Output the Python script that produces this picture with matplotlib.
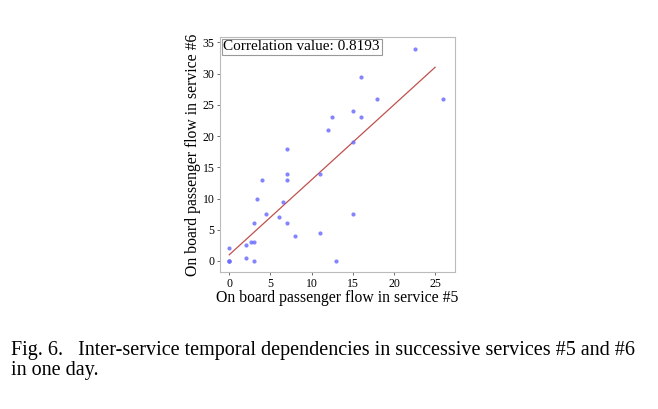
import matplotlib
matplotlib.use("Agg")
import matplotlib.pyplot as plt

plt.rcParams['font.family'] = ['Liberation Serif', 'DejaVu Serif']

# flow in service #5 (x) and service #6 (y)
flow_s5 = [0, 0, 0, 0, 2, 2, 2.6, 3, 3, 3, 3.4, 4, 4.5, 6, 6.5, 7, 7, 7, 7, 8,
           11, 11, 12, 12.5, 13, 15, 15, 15, 16, 16, 18, 22.5, 26]
flow_s6 = [0, 0, 0, 2, 2.5, 0.5, 3, 3, 6, 0, 10, 13, 7.5, 7, 9.5, 18, 14, 13, 6, 4,
           14, 4.5, 21, 23, 0, 24, 19, 7.5, 29.5, 23, 26, 34, 26]

# fitted line end points
fit_x = [0, 25]
fit_y = [1.0, 31.0]
corr_value = 0.8193

x_ticks = [0, 5, 10, 15, 20, 25]
y_ticks = [0, 5, 10, 15, 20, 25, 30, 35]

fig = plt.figure(figsize=(6.58, 4.09), dpi=100)
ax = fig.add_axes([0.3343, 0.335, 0.357, 0.5746])

ax.scatter(flow_s5, flow_s6, s=9, color='#6e6eff', alpha=0.85, linewidths=0, zorder=3)
ax.plot(fit_x, fit_y, color='#c0504d', lw=0.9, zorder=2)

ax.set_xlim(-1.13, 27.4)
ax.set_ylim(-1.76, 35.85)
ax.set_xticks(x_ticks)
ax.set_yticks(y_ticks)
ax.tick_params(labelsize=8.5, length=2.5, width=0.6, color='#555555', pad=1.5)
for sp in ax.spines.values():
    sp.set_color('#bbbbbb')
    sp.set_linewidth(0.8)

ax.set_xlabel('On board passenger flow in service #5', fontsize=11.3, labelpad=0)
ax.set_ylabel('On board passenger flow in service #6', fontsize=11.3, labelpad=1)

ax.text(0.015, 0.985, 'Correlation value: %.4f' % corr_value, transform=ax.transAxes,
        fontsize=11, va='top', ha='left',
        bbox=dict(boxstyle='square,pad=0.12', fc='white', ec='#999999', lw=0.8))

fig.text(11 / 658, 1 - 355 / 409, 'Fig. 6.   Inter-service temporal dependencies in successive services #5 and #6',
         fontsize=14.5, va='baseline', ha='left')
fig.text(11 / 658, 1 - 375 / 409, 'in one day.', fontsize=14.5, va='baseline', ha='left')

fig.savefig('out.png', dpi=100)
